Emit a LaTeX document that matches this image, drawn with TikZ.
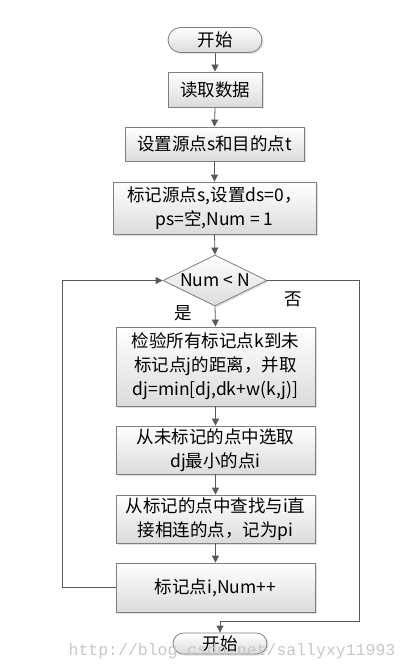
\documentclass[tikz,border=0pt]{standalone}
\usepackage{fontspec}
\setmainfont{Noto Sans CJK SC}
\setmonofont{Liberation Mono}
\usetikzlibrary{shapes.geometric,shapes.misc,shadows,arrows.meta}
\definecolor{lineGray}{HTML}{595959}
\definecolor{edgeGray}{HTML}{7F7F7F}
\pgfmathsetmacro{\boxWidth}{199}
\tikzset{
	stepbox/.style= {
		shape=rectangle, draw=edgeGray, line width=0.8pt,
		top color=white, bottom color=black!14,
		minimum width=\boxWidth pt, inner sep=0, align=center,
		font=\fontsize{17.5}{24}\selectfont,
		drop shadow={opacity=0.25,shadow xshift=1.5pt,shadow yshift=-1.5pt}
	},
	term/.style= {stepbox, shape=rounded rectangle, minimum width=94pt},
	test/.style= {stepbox, shape=diamond, aspect=2, minimum width=104pt, minimum height=51pt},
	flow/.style= {draw=lineGray, line width=0.8pt, -{Triangle[length=7pt,width=7pt]}},
	answer/.style= {font=\fontsize{17.5}{17.5}\selectfont, inner sep=0},
	wmark/.style= {font=\ttfamily\fontsize{16.5}{16.5}\selectfont, text=black!22, inner sep=0}
}
\begin{document}
\begin{tikzpicture}[x=1pt,y=-1pt]
\useasboundingbox (0,0) rectangle (409,671);
% main column
\node[term, minimum height=25pt] (start) at (215,40) {开始};
\node[stepbox, minimum width=94pt, minimum height=35pt] (read) at (215,89.5) {读取数据};
\node[stepbox, minimum width=179pt, minimum height=34pt] (setst) at (214.5,144) {设置源点s和目的点t};
\node[stepbox, minimum width=203pt, minimum height=52pt] (init) at (214.5,208) {标记源点s,设置ds=0，\\ps=空,Num = 1};
\node[test] (cond) at (215,280.5) {Num < N};
\node[stepbox, minimum height=79pt] (check) at (215.5,366.5) {检验所有标记点k到未\\标记点j的距离，并取\\dj=min[dj,dk+w(k,j)]};
\node[stepbox, minimum height=48pt] (pick) at (215.5,450) {从未标记的点中选取\\dj最小的点i};
\node[stepbox, minimum height=48pt] (find) at (215.5,519) {从标记的点中查找与i直\\接相连的点，记为pi};
\node[stepbox, minimum height=49pt] (mark) at (215.5,587.5) {标记点i,Num++};
\node[term, minimum height=21pt] (stop) at (220,643.5) {开始};

\node[answer] (yes) at (183,313) {是};
\node[answer] (no) at (293,299) {否};

% arrows down
\foreach \a/\b in {start/read,read/setst,setst/init,init/cond,cond/check,check/pick,pick/find,find/mark}{%
	\draw[flow] (\a.south) -- (\b.north);
}

% loop back and exit
\coordinate (exit) at (359,621);
\draw[flow] (mark.west) -- ++(-53,0) |- (cond.west);
\draw[flow] (cond.east) -| (exit) -| (stop.north);

\node[wmark] (url) at (232,651) {http://blog.csdn.net/sallyxy11993};
\end{tikzpicture}
\end{document}
